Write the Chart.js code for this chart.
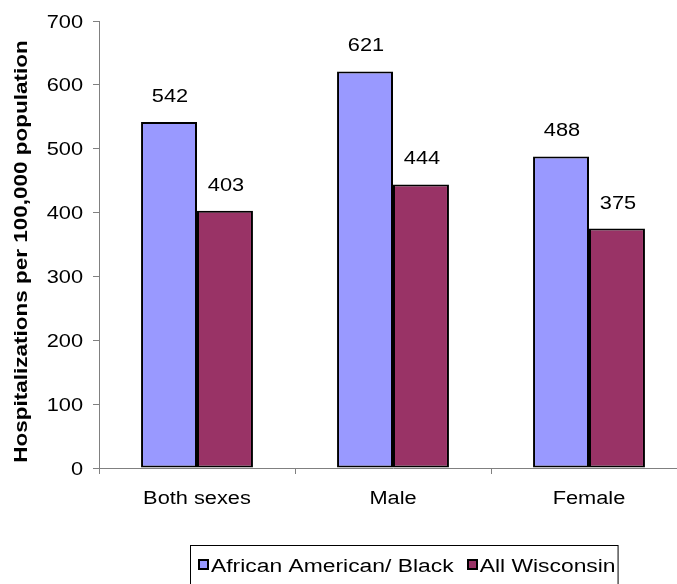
<!DOCTYPE html>
<html>
<head>
<meta charset="utf-8">
<script src="https://cdn.jsdelivr.net/npm/chart.js@4/dist/chart.umd.min.js"></script>
<style>
  html, body { margin: 0; padding: 0; background: #fff; overflow: hidden; }
  #wrap { position: relative; width: 690px; height: 584px; }
</style>
</head>
<body>
<div id="wrap"><canvas id="c" width="690" height="584"></canvas></div>
<script>
// Hospitalization rates by sex
const categories = ['Both sexes', 'Male', 'Female'];
const seriesNames = ['African American/ Black', 'All Wisconsin'];
const africanAmerican = [542, 621, 488];
const allWisconsin = [403, 444, 375];
const yTicks = [0, 100, 200, 300, 400, 500, 600, 700];
const yTitle = 'Hospitalizations per 100,000 population';

const FONT = '"Liberation Sans", Arial, Helvetica, sans-serif';
const TEXT_FONT = '18px ' + FONT;
const TITLE_FONT = 'bold 18px ' + FONT;
const WIDE = 1.21;      // horizontal stretch of the lettering
const LEGEND_WIDE = 1.27;
const fillColors = ['#9999FF', '#993366'];

// Draw a string stretched horizontally around its anchor point
function wideText(ctx, text, x, y, opts) {
  ctx.save();
  ctx.font = opts.font || TEXT_FONT;
  ctx.fillStyle = '#000';
  ctx.textAlign = opts.align || 'center';
  ctx.textBaseline = 'alphabetic';
  ctx.translate(x, y);
  if (opts.rotate) ctx.rotate(opts.rotate);
  ctx.scale(opts.sx || WIDE, 1);
  ctx.fillText(text, 0, 0);
  ctx.restore();
}

// Axis labels and title drawn with stretched lettering
const axisText = {
  id: 'axisText',
  afterDraw(chart) {
    const ctx = chart.ctx;
    const area = chart.chartArea;
    const xs = chart.scales.x, ys = chart.scales.y;
    yTicks.forEach(v => {
      wideText(ctx, String(v), area.left - 16, ys.getPixelForValue(v) + 6.5, { align: 'right' });
    });
    categories.forEach((c, i) => {
      wideText(ctx, c, xs.getPixelForValue(i), area.bottom + 36, { align: 'center' });
    });
    wideText(ctx, yTitle, 27, (area.top + area.bottom) / 2 + 7,
      { font: TITLE_FONT, rotate: -Math.PI / 2, sx: 1.25 });
  }
};

// Value labels above each bar
const valueLabels = {
  id: 'valueLabels',
  afterDatasetsDraw(chart) {
    const ctx = chart.ctx;
    chart.data.datasets.forEach((ds, i) => {
      chart.getDatasetMeta(i).data.forEach((bar, j) => {
        wideText(ctx, String(ds.data[j]), bar.x + 1, bar.y - 20, { align: 'center' });
      });
    });
  }
};

// Boxed legend under the plot
const boxedLegend = {
  id: 'boxedLegend',
  afterDraw(chart) {
    const ctx = chart.ctx;
    const area = chart.chartArea;
    ctx.save();
    ctx.font = TEXT_FONT;
    const sw = 9, gapSwText = 3, gapItems = 14, padL = 8, padR = 3;
    const items = chart.data.datasets.map(ds => ({
      text: ds.label, color: ds.backgroundColor,
      w: ctx.measureText(ds.label).width * LEGEND_WIDE
    }));
    let total = padL + padR;
    items.forEach((it, i) => { total += sw + gapSwText + it.w + (i ? gapItems : 0); });
    const cx = (area.left + area.right) / 2 + 11;
    const left = Math.round(cx - total / 2) + 0.5;
    const top = area.bottom + 77.5;
    ctx.strokeStyle = '#000';
    ctx.lineWidth = 1;
    ctx.strokeRect(left, top, total, 60);
    const midY = Math.round(top + 19.5);
    let x = Math.round(left + padL);
    items.forEach((it, i) => {
      if (i) x += gapItems;
      const bx = Math.round(x);
      ctx.fillStyle = it.color;
      ctx.fillRect(bx, midY - 5, sw, sw);
      ctx.lineWidth = 2;
      ctx.strokeStyle = '#000';
      ctx.strokeRect(bx, midY - 5, sw, sw);
      x += sw + gapSwText;
      wideText(ctx, it.text, x, midY + 6.5, { align: 'left', sx: LEGEND_WIDE });
      x += it.w;
    });
    ctx.restore();
  }
};

new Chart(document.getElementById('c'), {
  type: 'bar',
  data: {
    labels: categories,
    datasets: [
      { label: seriesNames[0], data: africanAmerican, backgroundColor: fillColors[0],
        borderColor: '#000', borderWidth: 2, borderSkipped: false },
      { label: seriesNames[1], data: allWisconsin, backgroundColor: fillColors[1],
        borderColor: '#000', borderWidth: 2, borderSkipped: false }
    ]
  },
  options: {
    responsive: false,
    animation: false,
    layout: { padding: { top: 21, right: 3, left: 0, bottom: 0 } },
    datasets: { bar: { categoryPercentage: 0.571, barPercentage: 1.0 } },
    plugins: {
      legend: { display: false },
      tooltip: { enabled: false }
    },
    scales: {
      x: {
        grid: { display: true, drawOnChartArea: false, drawTicks: true, tickLength: 6,
                color: '#808080', offset: true },
        border: { display: true, color: '#808080', width: 1 },
        ticks: { display: false },
        afterFit(scale) { scale.height = 116; }
      },
      y: {
        min: 0, max: 700,
        afterBuildTicks(scale) { scale.ticks = yTicks.map(v => ({ value: v })); },
        grid: { display: true, drawOnChartArea: false, drawTicks: true, tickLength: 6, color: '#808080' },
        border: { display: true, color: '#808080', width: 1 },
        ticks: { display: false },
        afterFit(scale) { scale.width = 99; }
      }
    }
  },
  plugins: [axisText, valueLabels, boxedLegend]
});
</script>
</body>
</html>
